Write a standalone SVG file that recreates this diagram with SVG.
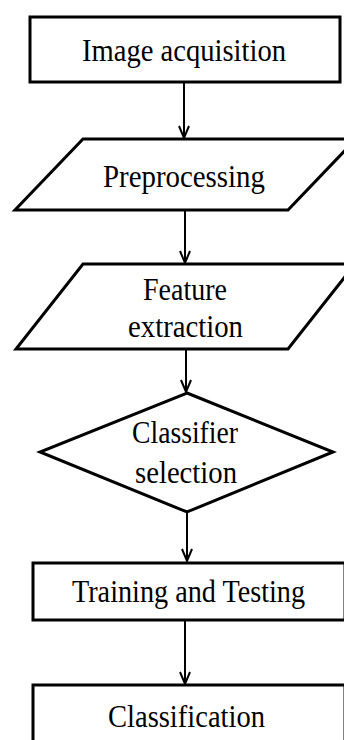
<svg xmlns="http://www.w3.org/2000/svg" width="344" height="740" viewBox="0 0 344 740">
<style>
.shape{fill:#fff;stroke:#000;stroke-width:3;stroke-linejoin:miter}
.lbl{font-family:'Liberation Serif','Times New Roman',serif;font-size:32px;fill:#000;text-anchor:middle}
.conn{stroke:#000;stroke-width:2;fill:none}
</style>
<rect width="344" height="740" fill="#fff"/>
<g id="connectors">
<line class="conn" x1="184" y1="83" x2="184" y2="138"/>
<line class="conn" x1="185" y1="211" x2="185" y2="263"/>
<line class="conn" x1="186" y1="350" x2="186" y2="392"/>
<line class="conn" x1="187" y1="513" x2="187" y2="561"/>
<line class="conn" x1="185" y1="621" x2="185" y2="684"/>
<path class="conn" d="M179,126 L184,138 L189,126 M180,251 L185,263 L190,251 M181,380 L186,392 L191,380 M182,549 L187,561 L192,549 M180,672 L185,684 L190,672"/>
</g>
<g id="n1">
<rect class="shape" x="30" y="17" width="310" height="65"/>
<text class="lbl" x="184" y="61" textLength="204" lengthAdjust="spacingAndGlyphs">Image acquisition</text>
</g>
<g id="n2">
<polygon class="shape" points="83,139 356,139 288,210 15,210"/>
<text class="lbl" x="184" y="187" textLength="162" lengthAdjust="spacingAndGlyphs">Preprocessing</text>
</g>
<g id="n3">
<polygon class="shape" points="83,264 355,264 288,349 16,349"/>
<text class="lbl" x="185" y="300" textLength="84" lengthAdjust="spacingAndGlyphs">Feature</text>
<text class="lbl" x="185.5" y="337" textLength="115" lengthAdjust="spacingAndGlyphs">extraction</text>
</g>
<g id="n4">
<polygon class="shape" points="187,393 333,452 187,512 40,452"/>
<text class="lbl" x="185" y="443" textLength="106" lengthAdjust="spacingAndGlyphs">Classifier</text>
<text class="lbl" x="186" y="483" textLength="102" lengthAdjust="spacingAndGlyphs">selection</text>
</g>
<g id="n5">
<rect class="shape" x="33" y="563" width="312" height="57"/>
<text class="lbl" x="188.5" y="602" textLength="233" lengthAdjust="spacingAndGlyphs">Training and Testing</text>
</g>
<g id="n6">
<rect class="shape" x="33" y="685" width="312" height="70"/>
<text class="lbl" x="186.5" y="727" textLength="157" lengthAdjust="spacingAndGlyphs">Classification</text>
</g>
</svg>
